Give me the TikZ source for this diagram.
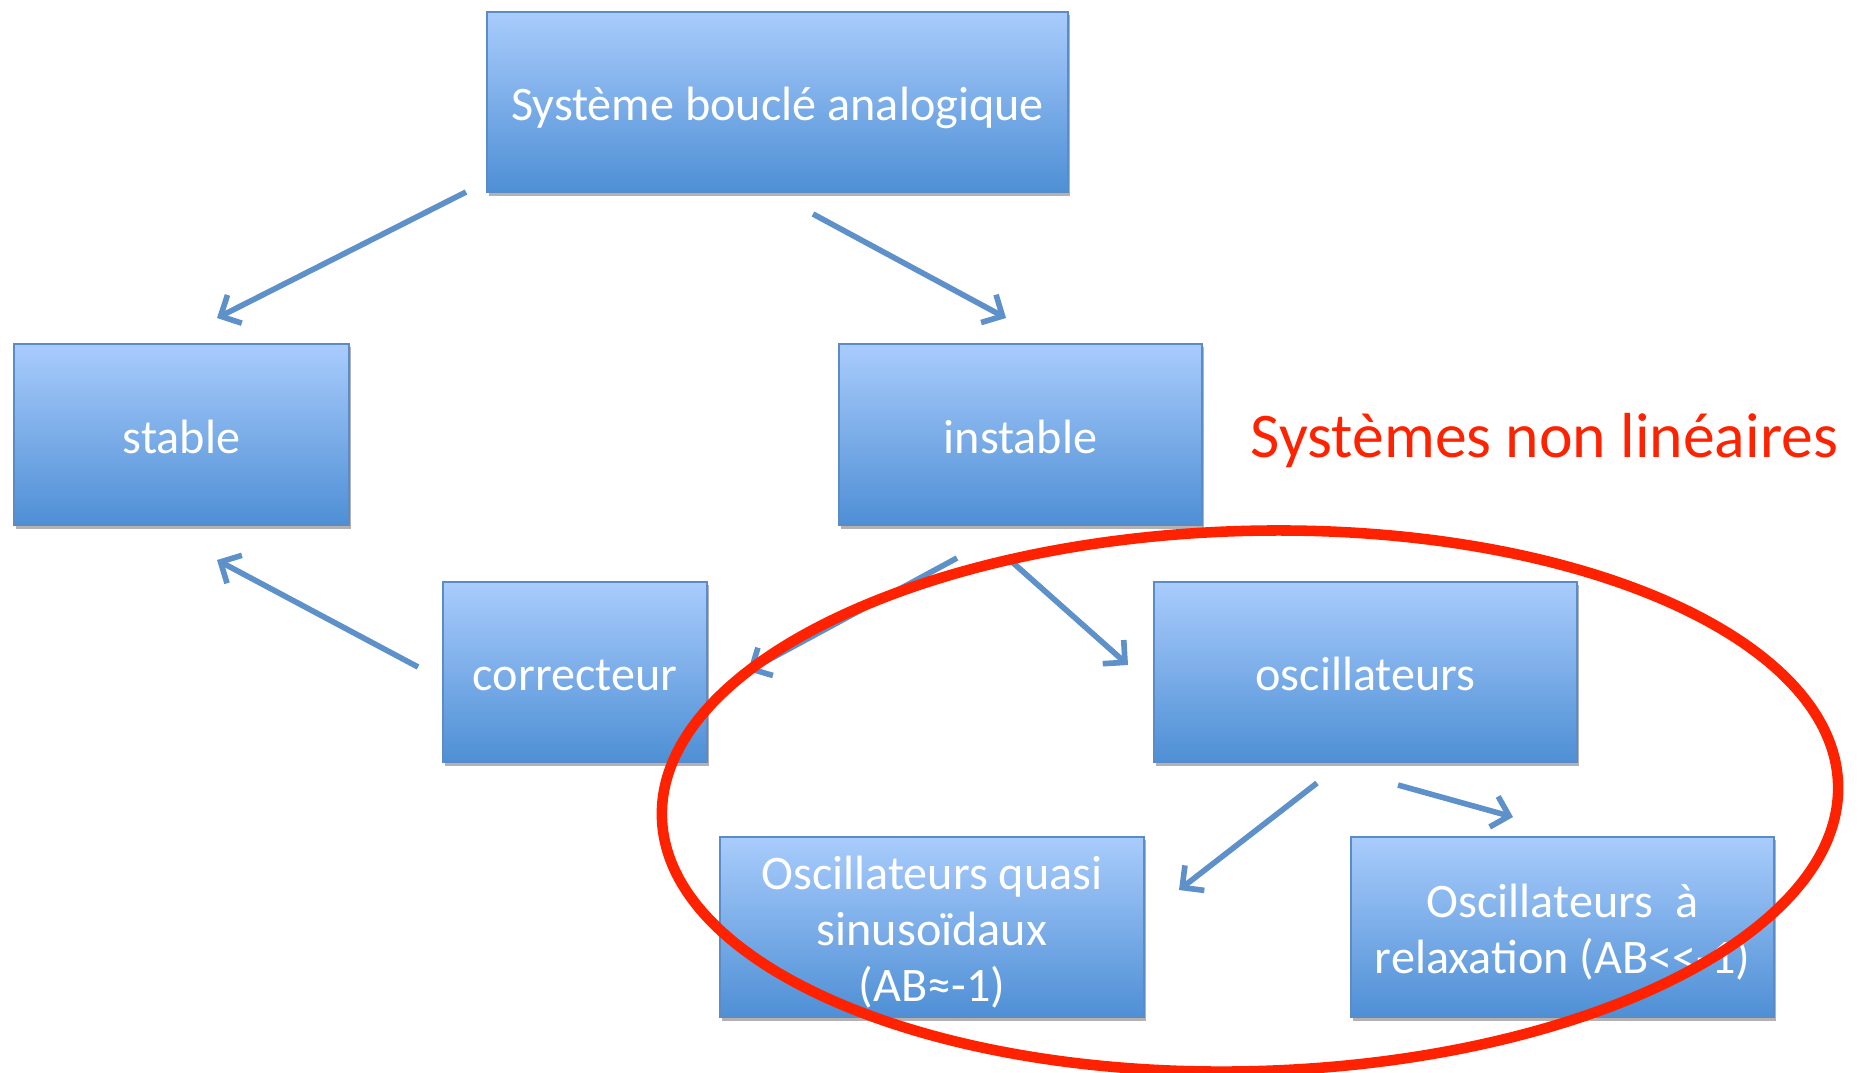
\documentclass[tikz,border=0pt]{standalone}
\usepackage{fontspec}
\setmainfont{Carlito}
\usetikzlibrary{arrows.meta,shadows}
\definecolor{boxtop}{HTML}{A9CCFC}
\definecolor{boxbot}{HTML}{4E8FD5}
\definecolor{boxline}{HTML}{5B8CC8}
\definecolor{linkblue}{HTML}{5E90C9}
\definecolor{ringred}{HTML}{FF2200}
% lines of a box, set a little low as in the slide
\newcommand{\boxtext}[1]{\raisebox{-2.1pt}[\height][\depth]{\begin{tabular}{@{}c@{}}#1\end{tabular}}}
\begin{document}
\begin{tikzpicture}[x=0.01cm,y=-0.01cm,
		main node/.style = {rectangle,draw=boxline,line width=0.6pt,top color=boxtop,bottom color=boxbot,
			text=white,inner sep=0pt,font=\fontsize{13.7}{16}\selectfont,
			drop shadow={shadow xshift=0.5pt,shadow yshift=-1pt,opacity=0.3,fill=black}},
		link/.style = {draw=linkblue,line width=1.6pt,-{Straight Barb[length=4.5pt,width=9pt]}}]
		
		\useasboundingbox (0,0) rectangle (1861,1072);
		
		\node[main node,minimum width=5.81cm,minimum height=1.80cm] at (777.5,102) (1) {\boxtext{Système bouclé analogique}};
		\node[main node,minimum width=3.35cm,minimum height=1.81cm] at (181.5,434.5) (2) {\boxtext{stable}};
		\node[main node,minimum width=3.63cm,minimum height=1.81cm] at (1020.5,434.5) (3) {\boxtext{instable}};
		\node[main node,minimum width=2.64cm,minimum height=1.80cm] at (575,672) (4) {\boxtext{correcteur}};
		\node[main node,minimum width=4.23cm,minimum height=1.80cm] at (1365.5,672) (5) {\boxtext{oscillateurs}};
		\node[main node,minimum width=4.24cm,minimum height=1.80cm] at (932,927) (6) {\boxtext{Oscillateurs quasi\\sinusoïdaux\\(AB≈-1)}};
		\node[main node,minimum width=4.23cm,minimum height=1.80cm] at (1562.5,927) (7) {\boxtext{Oscillateurs~ à\\relaxation (AB<{}<-1)}};
		\node[text=ringred,font=\fontsize{18.1}{21}\selectfont] at (1544.5,441) (8) {Systèmes non linéaires};
		
		\coordinate (a1) at (466,192);  \coordinate (b1) at (217,318);
		\coordinate (a2) at (813,214);  \coordinate (b2) at (1006,318);
		\coordinate (a3) at (418,667);  \coordinate (b3) at (217,560);
		\coordinate (a4) at (957,558);  \coordinate (b4) at (748,671);
		\coordinate (a5) at (1011,561); \coordinate (b5) at (1128,665);
		\coordinate (a6) at (1317,783); \coordinate (b6) at (1179,890);
		\coordinate (a7) at (1398,785); \coordinate (b7) at (1513,817);
		
		\path
		(a1) edge[link] (b1)
		(a2) edge[link] (b2)
		(a3) edge[link] (b3)
		(a4) edge[link] (b4)
		(a5) edge[link] (b5)
		(a6) edge[link] (b6)
		(a7) edge[link] (b7);
		
		\draw[ringred,line width=3pt,rotate around={1.6:(1250,801)}] (1250,801) ellipse [x radius=5.88cm,y radius=2.70cm];
		\end{tikzpicture}
\end{document}
